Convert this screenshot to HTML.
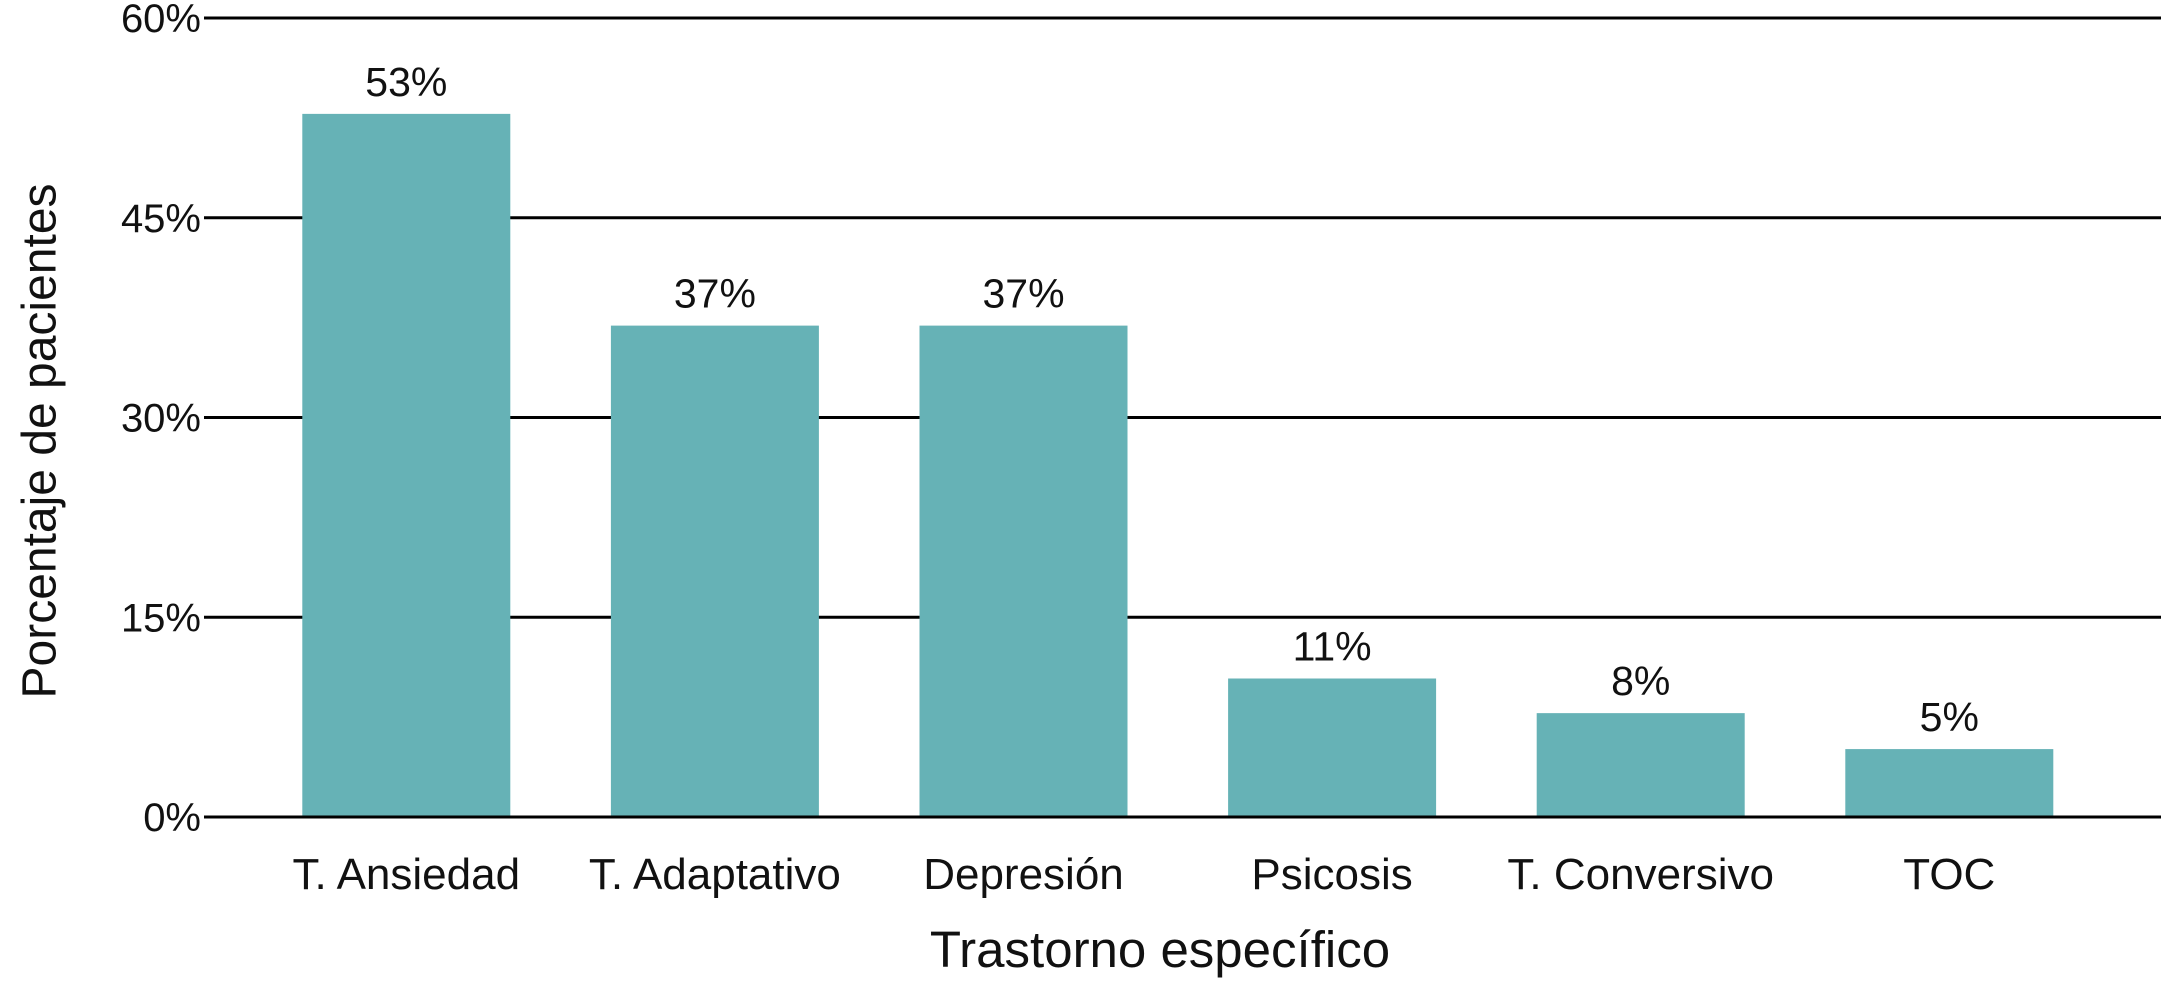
<!DOCTYPE html>
<html><head><meta charset="utf-8"><style>
html,body{margin:0;padding:0;background:#fff}
svg{display:block}
text{font-family:"Liberation Sans",sans-serif;fill:#111}
</style></head><body>
<svg id="chart" width="2161" height="981" viewBox="0 0 2161 981" xmlns="http://www.w3.org/2000/svg">
<g id="grid"></g>
<g id="yticks"></g>
<g id="bars"></g>
<g id="xlabels"></g>
<text x="1160" y="967" font-size="51" text-anchor="middle">Trastorno específico</text>
<text transform="translate(40,441) rotate(-90)" font-size="48" text-anchor="middle" dominant-baseline="central">Porcentaje de pacientes</text>
</svg>
<script>
const categories = ["T. Ansiedad","T. Adaptativo","Depresión","Psicosis","T. Conversivo","TOC"];
const values = [52.8, 36.9, 36.9, 10.4, 7.8, 5.1];
const valueLabels = ["53%","37%","37%","11%","8%","5%"];
const yTicks = [0, 15, 30, 45, 60];
const yTickLabels = ["0%","15%","30%","45%","60%"];

const NS = "http://www.w3.org/2000/svg";
const y0 = 817, y1 = 18, vMax = 60;
const yScale = v => y0 - (v / vMax) * (y0 - y1);
const xStart = 252, step = 308.6, barW = 208;
const xCenter = i => xStart + step * (i + 0.5);

function mk(tag, attrs, parent, txt) {
  const el = document.createElementNS(NS, tag);
  for (const k in attrs) el.setAttribute(k, attrs[k]);
  if (txt !== undefined) el.textContent = txt;
  parent.appendChild(el);
  return el;
}
const grid = document.getElementById('grid');
const yt = document.getElementById('yticks');
const bars = document.getElementById('bars');
const xl = document.getElementById('xlabels');

yTicks.forEach((t, i) => {
  const y = yScale(t);
  const ln = mk('line', {x1: 204, x2: 2161, y1: y, y2: y, stroke: '#000', 'stroke-width': 3}, grid);
  
  
  const tx = mk('text', {x: 201, y: y + 14, 'font-size': 40, 'text-anchor': 'end'}, yt, yTickLabels[i]);
  
  
});

categories.forEach((c, i) => {
  const cx = xCenter(i);
  const top = yScale(values[i]);
  const r = mk('rect', {x: cx - barW / 2, y: top, width: barW, height: y0 - 1.5 - top, fill: '#66b2b6'}, bars);
  
  
  const vl = mk('text', {x: cx, y: top - 18, 'font-size': 41, 'text-anchor': 'middle'}, bars, valueLabels[i]);
  
  
  const cl = mk('text', {x: cx, y: 889, 'font-size': 44, 'text-anchor': 'middle'}, xl, c);
  
  
});
</script>
</body></html>
